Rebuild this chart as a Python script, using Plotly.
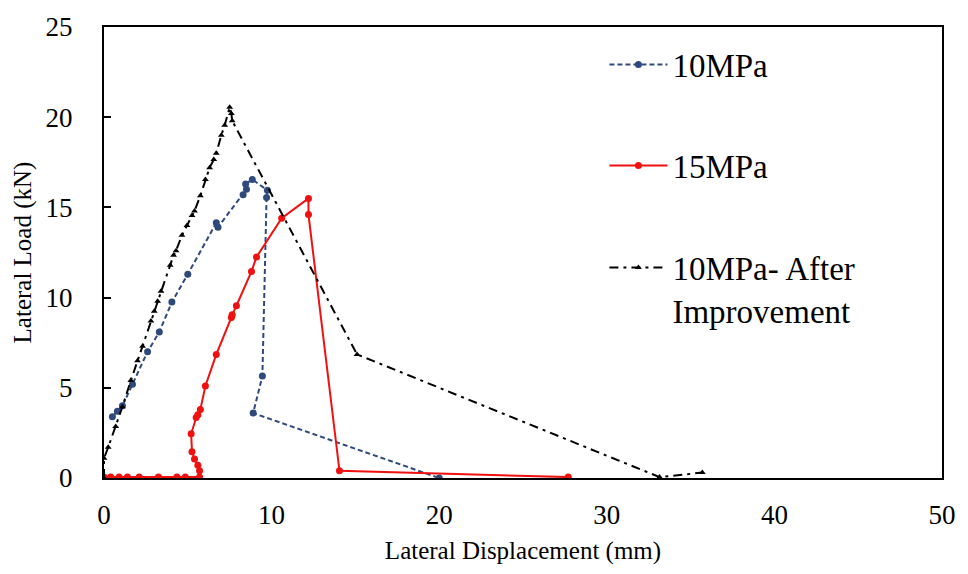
import plotly.graph_objects as go

# Lateral displacement (mm) vs lateral load (kN) for each specimen
disp_10mpa = [0.5, 0.8, 1.1, 1.7, 2.6, 3.3, 4.05, 5.0, 6.7, 6.8, 8.3, 8.5, 8.45, 8.85,
              9.75, 9.7, 9.45, 8.9, 20.0]
load_10mpa = [3.4, 3.7, 4.0, 5.2, 7.0, 8.1, 9.75, 11.3, 14.15, 13.9, 15.7, 16.0, 16.3, 16.55,
              15.95, 15.55, 5.65, 3.6, 0.0]

disp_15mpa = [0.0, 0.4, 0.9, 1.4, 2.1, 3.25, 4.35, 4.85, 5.7, 5.7, 5.6, 5.4, 5.25, 5.2, 5.5,
              5.6, 5.75, 6.05, 6.7, 7.6, 7.65, 7.9, 8.8, 9.1, 10.6, 12.2, 12.2, 14.05, 27.7]
load_15mpa = [0.05, 0.05, 0.05, 0.05, 0.05, 0.05, 0.05, 0.05, 0.05, 0.4, 0.7, 1.05, 1.45, 2.45,
              3.35, 3.5, 3.8, 5.1, 6.85, 8.9, 9.05, 9.55, 11.45, 12.25, 14.4, 15.5, 14.6, 0.4, 0.05]

disp_improved = [0.0, 0.0, 0.25, 0.7, 1.1, 1.6, 2.0, 2.3, 2.8, 3.0, 3.2, 3.4, 3.95, 4.15, 4.3,
                 4.65, 4.95, 5.25, 5.4, 5.75, 6.05, 6.3, 6.55, 6.7, 7.0, 7.2, 7.5, 7.6, 7.65,
                 15.1, 33.15, 35.7]
load_improved = [0.0, 1.1, 1.7, 2.85, 3.95, 5.4, 6.5, 7.3, 8.7, 9.25, 9.8, 10.35, 11.8, 12.35,
                 12.6, 13.45, 14.0, 14.55, 14.8, 15.65, 16.55, 17.2, 17.65, 18.0, 19.0, 19.55,
                 20.55, 20.2, 19.8, 6.85, 0.05, 0.3]

series_names = ["10MPa", "15MPa", "10MPa- After<br>Improvement"]
x_ticks = [0, 10, 20, 30, 40, 50]
y_ticks = [0, 5, 10, 15, 20, 25]

FONT = "Liberation Serif"

fig = go.Figure()
fig.add_trace(go.Scatter(
    x=disp_10mpa, y=load_10mpa, name=series_names[0], mode="lines+markers",
    line=dict(color="#2E4A7D", width=2, dash="5px,3px"),
    marker=dict(symbol="circle", size=7, color="#2E4A7D"),
    legend="legend", showlegend=True,
))
fig.add_trace(go.Scatter(
    x=disp_15mpa, y=load_15mpa, name=series_names[1], mode="lines+markers",
    line=dict(color="#F01010", width=2),
    marker=dict(symbol="circle", size=7, color="#F01010"),
    legend="legend2", showlegend=True,
))
fig.add_trace(go.Scatter(
    x=disp_improved, y=load_improved, name=series_names[2], mode="lines+markers",
    line=dict(color="#000000", width=2, dash="9px,5px,3px,5px"),
    marker=dict(symbol="triangle-up", size=6, color="#000000"),
    legend="legend3", showlegend=True,
))

L, R, T, B = 104, 20, 22, 96
W, H = 968, 574
plot_h = H - T - B
plot_w = W - L - R


def py(pix):
    return (H - B - pix) / plot_h


def px(pix):
    return (pix - L) / plot_w


legend_common = dict(
    font=dict(family=FONT, size=33, color="#000000"),
    bgcolor="rgba(0,0,0,0)", itemwidth=58, xanchor="left", x=px(608),
    itemclick=False,
)

fig.update_layout(
    width=W, height=H,
    margin=dict(l=L, r=R, t=T, b=B),
    paper_bgcolor="white", plot_bgcolor="white",
    font=dict(family=FONT, color="#000000"),
    showlegend=True,
    legend=dict(**legend_common, yanchor="middle", y=py(60)),
    legend2=dict(**legend_common, yanchor="middle", y=py(162)),
    legend3=dict(**legend_common, yanchor="top", y=py(237), valign="top"),
    xaxis=dict(
        range=[0, 50], tickvals=x_ticks, ticks="", showgrid=False, zeroline=False,
        showline=True, linecolor="#000000", linewidth=2, mirror=True,
        tickfont=dict(family=FONT, size=27, color="#000000"), ticklabelstandoff=12,
        title=dict(text="Lateral Displacement (mm)", font=dict(family=FONT, size=25, color="#000000"),
                   standoff=12),
    ),
    yaxis=dict(
        range=[0, 25], tickvals=y_ticks, ticks="inside", ticklen=7, tickwidth=2,
        tickcolor="#000000", showgrid=False, zeroline=False,
        showline=True, linecolor="#000000", linewidth=2, mirror=True,
        tickfont=dict(family=FONT, size=27, color="#000000"), ticklabelstandoff=24,
        title=dict(text="Lateral Load (kN)", font=dict(family=FONT, size=25, color="#000000"),
                   standoff=7),
    ),
)

fig.write_html("out.html")
